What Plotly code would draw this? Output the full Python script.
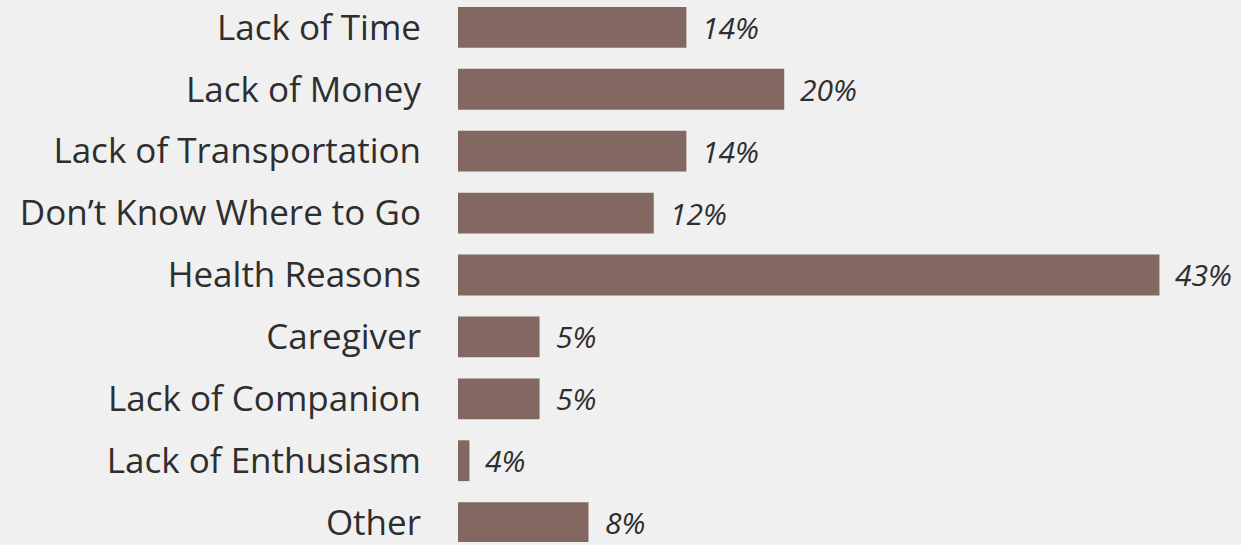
import plotly.graph_objects as go

categories = [
    "Lack of Time",
    "Lack of Money",
    "Lack of Transportation",
    "Don’t Know Where to Go",
    "Health Reasons",
    "Caregiver",
    "Lack of Companion",
    "Lack of Enthusiasm",
    "Other",
]
bar_values = [14, 20, 14, 12, 43, 5, 5, 0.7, 8]
value_labels = ["14%", "20%", "14%", "12%", "43%", "5%", "5%", "4%", "8%"]

BAR_COLOR = "#836862"
BG = "#f0f0f0"
TEXT = "#2e2e2e"

fig = go.Figure(
    go.Bar(
        x=bar_values,
        y=categories,
        orientation="h",
        marker=dict(color=BAR_COLOR, line=dict(width=0)),
        hoverinfo="skip",
    )
)

for cat, val, lab in zip(categories, bar_values, value_labels):
    fig.add_annotation(
        x=val, y=cat, text=lab, showarrow=False,
        xanchor="left", yanchor="middle", xshift=14,
        font=dict(family="Open Sans", size=30, color=TEXT, style="italic"),
    )

fig.update_layout(
    width=1241, height=545,
    margin=dict(l=458, r=0, t=0, b=0),
    paper_bgcolor=BG, plot_bgcolor=BG,
    bargap=0.34,
    showlegend=False,
    font=dict(family="Open Sans", color=TEXT),
)
fig.update_xaxes(range=[0, 48.0], visible=False)
fig.update_yaxes(
    categoryorder="array", categoryarray=categories,
    range=[8.313, -0.442],
    showgrid=False, zeroline=False, showline=False,
    ticks="", ticklabelstandoff=36,
    tickfont=dict(family="Open Sans", size=35, color=TEXT),
)

# page has a default body margin; drop it so the chart fills the window
fig.write_html(
    "out.html",
    config={"displayModeBar": False},
    post_script="document.body.style.margin='0';",
)
